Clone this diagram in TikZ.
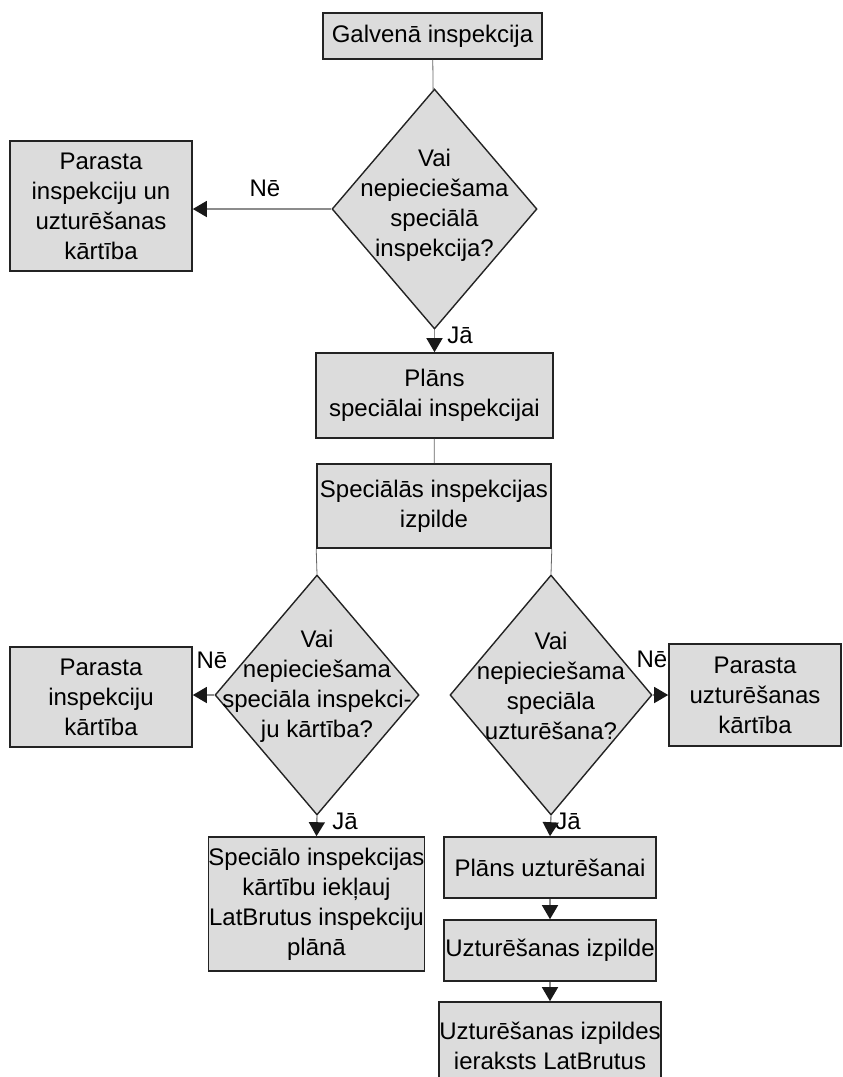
\documentclass[tikz,border=0pt]{standalone}
\usepackage{fontspec}
\setmainfont{Liberation Sans}
\usetikzlibrary{shapes.geometric,arrows.meta}
\definecolor{boxgray}{HTML}{DCDCDC}
\definecolor{edgegray}{HTML}{232323}

\begin{document}
\begin{tikzpicture}[x=1pt, y=-1pt, font=\fontsize{24}{30}\selectfont,
		box/.style={rectangle, draw=edgegray, fill=boxgray, line width=1.6pt, inner sep=0pt, align=center},
		decision/.style={diamond, draw=edgegray, fill=boxgray, line width=1.4pt, inner sep=0pt},
		link/.style={draw=black!60, line width=0.8pt},
		yesno/.style={draw=black!45, line width=1.4pt, -{Triangle[length=14pt, width=16pt, color=black!90]}},
		tag/.style={inner sep=0pt, align=center}]
		\useasboundingbox (0,0) rectangle (843,1077);
		% upper part
		\node[box, minimum width=219pt, minimum height=46pt] (main) at (432.5,36) {Galvenā inspekcija};
		\node[decision, minimum width=205pt, minimum height=240pt] (ask1) at (434.5,209) {};
		\node[tag] (ask1txt) at (434.5,205) {Vai\\nepieciešama\\speciālā\\inspekcija?};
		\node[box, minimum width=182pt, minimum height=130pt] (usual1) at (101,206) {Parasta\\inspekciju un\\uzturēšanas\\kārtība};
		\node[box, minimum width=237pt, minimum height=85pt] (plan) at (434.5,395.5) {Plāns\\speciālai inspekcijai};
		\node[box, minimum width=234pt, minimum height=84pt] (exec) at (434,506) {Speciālās inspekcijas\\izpilde};
		% lower part
		\node[decision, minimum width=204pt, minimum height=240pt] (ask2) at (317,695) {};
		\node[tag] (ask2txt) at (317,686) {Vai\\nepieciešama\\speciāla inspekci-\\ju kārtība?};
		\node[decision, minimum width=202pt, minimum height=240pt] (ask3) at (551,695) {};
		\node[tag] (ask3txt) at (551,686) {Vai\\nepieciešama\\speciāla\\uzturēšana?};
		\node[box, minimum width=182pt, minimum height=100pt] (usual2) at (101,697) {Parasta\\inspekciju\\kārtība};
		\node[box, minimum width=172pt, minimum height=102pt] (usual3) at (755,695) {Parasta\\uzturēšanas\\kārtība};
		\node[box, minimum width=213pt, minimum height=134pt] (incl) at (316.5,904) {Speciālo inspekcijas\\kārtību iekļauj\\LatBrutus inspekciju\\plānā};
		\node[box, minimum width=212pt, minimum height=61pt] (plan2) at (550,867.5) {Plāns uzturēšanai};
		\node[box, minimum width=212pt, minimum height=61pt] (do2) at (550,950.5) {Uzturēšanas izpilde};
		\node[box, minimum width=212pt, minimum height=88pt] (rec) at (550,1046) {Uzturēšanas izpildes\\ieraksts LatBrutus};
		% labels
		\node[tag] (no1) at (265,188) {Nē};
		\node[tag] (yes1) at (460,335) {Jā};
		\node[tag] (no2) at (212,660) {Nē};
		\node[tag] (no3) at (652,659) {Nē};
		\node[tag] (yes2) at (345,821) {Jā};
		\node[tag] (yes3) at (568,821) {Jā};
		% connectors
		\draw[link] (main) -- (ask1);
		\draw[yesno] (ask1.west) -- (usual1.east |- ask1.west);
		\draw[yesno] (ask1.south) -- (plan.north);
		\draw[link] (plan) -- (exec);
		\draw[link] (exec.south west) -- (ask2.north);
		\draw[link] (exec.south east) -- (ask3.north);
		\draw[yesno] (ask2.west) -- (usual2.east |- ask2.west);
		\draw[yesno] (ask3.east) -- (usual3.west |- ask3.east);
		\draw[yesno] (ask2.south) -- (incl.north);
		\draw[yesno] (ask3.south) -- (plan2.north);
		\draw[yesno] (plan2) -- (do2);
		\draw[yesno] (do2) -- (rec);
	\end{tikzpicture}
\end{document}
